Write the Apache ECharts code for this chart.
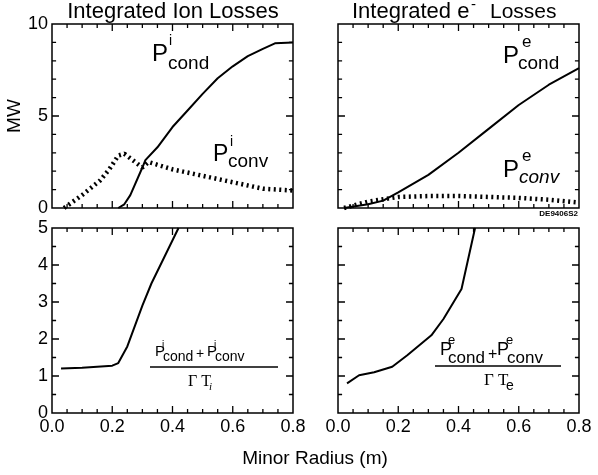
<!DOCTYPE html>
<html>
<head>
<meta charset="utf-8">
<script src="https://cdn.jsdelivr.net/npm/echarts@6/dist/echarts.min.js"></script>
<style>
html, body { margin: 0; padding: 0; background: #fff; }
#main { width: 598px; height: 475px; }
</style>
</head>
<body>
<div id="main"></div>
<script>
// tick labels
var radiusTicks = ['0.0', '0.2', '0.4', '0.6', '0.8'];
var powerTicks = [0, 5, 10];
var ratioTicks = [0, 1, 2, 3, 4, 5];
// small frame ticks (drawn on all four sides)
var radiusMarks = [0.05, 0.1, 0.15, 0.2, 0.25, 0.3, 0.35, 0.4, 0.45, 0.5, 0.55, 0.6, 0.65, 0.7, 0.75];
var powerMarks = [1, 2, 3, 4, 5, 6, 7, 8, 9];
var ratioMarks = [0.5, 1, 1.5, 2, 2.5, 3, 3.5, 4, 4.5];

// integrated ion losses [r (m), MW]
var ionCond = [[0.22, 0], [0.24, 0.2], [0.26, 0.7], [0.3, 2.2], [0.31, 2.6], [0.35, 3.3], [0.4, 4.4],
  [0.45, 5.3], [0.5, 6.2], [0.55, 7.05], [0.6, 7.7], [0.65, 8.25], [0.7, 8.65], [0.74, 8.95], [0.8, 9.0]];
var ionConv = [[0.04, 0], [0.1, 0.7], [0.16, 1.5], [0.19, 2.1], [0.22, 2.85], [0.24, 2.95], [0.3, 2.2],
  [0.32, 2.5], [0.4, 2.1], [0.5, 1.75], [0.6, 1.4], [0.7, 1.05], [0.8, 0.95]];
// integrated electron losses
var eleCond = [[0.02, 0], [0.1, 0.2], [0.15, 0.4], [0.2, 0.85], [0.3, 1.8], [0.4, 3.0], [0.5, 4.3],
  [0.6, 5.6], [0.7, 6.7], [0.8, 7.6]];
var eleConv = [[0.02, 0], [0.1, 0.35], [0.2, 0.6], [0.3, 0.65], [0.4, 0.65], [0.5, 0.6], [0.6, 0.55],
  [0.7, 0.45], [0.8, 0.3]];
// (Pcond + Pconv) / (Gamma T)
var ionRatio = [[0.03, 1.2], [0.1, 1.22], [0.2, 1.28], [0.22, 1.35], [0.25, 1.8], [0.3, 2.9], [0.33, 3.5], [0.42, 5.0]];
var eleRatio = [[0.03, 0.8], [0.07, 1.02], [0.12, 1.1], [0.18, 1.25], [0.23, 1.56], [0.31, 2.1], [0.35, 2.54],
  [0.41, 3.35], [0.455, 5.0]];

var FONT = 'Liberation Sans';

function xAx(grid, showLabel) {
  return {
    type: 'value', gridIndex: grid,
    min: 0, max: 0.8, interval: 0.2,
    axisLine: { show: false },
    axisTick: { show: false },
    splitLine: { show: false },
    axisLabel: {
      show: showLabel, margin: 5, color: '#000', fontSize: 18, fontFamily: FONT,
      formatter: function (v) { return radiusTicks[Math.round(v / 0.2)]; }
    }
  };
}

function yAx(grid, ticks, showLabel, name) {
  return {
    type: 'value', gridIndex: grid,
    min: ticks[0], max: ticks[ticks.length - 1], interval: ticks[1] - ticks[0],
    name: name || '', nameLocation: 'middle', nameGap: 22,
    nameTextStyle: { color: '#000', fontSize: 19, fontFamily: FONT },
    axisLine: { show: false },
    axisTick: { show: false },
    splitLine: { show: false },
    axisLabel: { show: showLabel, margin: 4, color: '#000', fontSize: 18, fontFamily: FONT }
  };
}

function solid(idx, data) {
  return {
    type: 'line', xAxisIndex: idx, yAxisIndex: idx, data: data, showSymbol: false, clip: true,
    lineStyle: { color: '#000', width: 2 }
  };
}
function hatch(idx, data) {
  return {
    type: 'line', xAxisIndex: idx, yAxisIndex: idx, data: data, showSymbol: false, clip: true,
    lineStyle: { color: '#000', width: 4.5, type: [2, 3.5] }
  };
}

// inward frame ticks as short segments of a gapped line series, in the panel's data units
function frameTicks(idx, yTicks, yMarks) {
  var yMin = yTicks[0], yMax = yTicks[yTicks.length - 1];
  var yStep = yTicks[1] - yTicks[0];
  var ySpan = yMax - yMin;
  var data = [];
  function isMajor(v, step) { return Math.abs(v / step - Math.round(v / step)) < 1e-6; }
  radiusMarks.forEach(function (v) {
    var l = ySpan * (isMajor(v, 0.2) ? 0.038 : 0.022);
    data.push([v, yMin], [v, yMin + l], [v, '-']);
    data.push([v, yMax], [v, yMax - l], [v, '-']);
  });
  yMarks.forEach(function (v) {
    var l = 0.8 * (isMajor(v, yStep) ? 0.029 : 0.017);
    data.push([0, v], [l, v], [0, '-']);
    data.push([0.8, v], [0.8 - l, v], [0.8, '-']);
  });
  return {
    type: 'line', xAxisIndex: idx, yAxisIndex: idx, data: data, showSymbol: false,
    connectNulls: false, clip: false, silent: true, z: 5,
    lineStyle: { color: '#000', width: 1.3 }
  };
}

function txt(x, y, s, size, extra) {
  var st = {
    text: s, fontSize: size, fontFamily: FONT, fill: '#000',
    textAlign: 'left', textVerticalAlign: 'middle', align: 'left', verticalAlign: 'middle'
  };
  for (var k in extra) st[k] = extra[k];
  return { type: 'text', x: x, y: y, style: st };
}
function hline(x1, x2, y) {
  return { type: 'line', shape: { x1: x1, y1: y, x2: x2, y2: y }, style: { stroke: '#000', lineWidth: 1.5 } };
}

var grids = [
  { left: 52, top: 24, width: 241, height: 184 },
  { left: 338, top: 24, width: 241, height: 184 },
  { left: 52, top: 228, width: 241, height: 185 },
  { left: 338, top: 228, width: 241, height: 185 }
];
grids.forEach(function (g) { g.show = true; g.borderColor = '#000'; g.borderWidth = 1.5; });

var option = {
  animation: false,
  grid: grids,
  xAxis: [xAx(0, false), xAx(1, false), xAx(2, true), xAx(3, true)],
  yAxis: [
    yAx(0, powerTicks, true, 'MW'), yAx(1, powerTicks, false),
    yAx(2, ratioTicks, true), yAx(3, ratioTicks, false)
  ],
  series: [
    frameTicks(0, powerTicks, powerMarks), frameTicks(1, powerTicks, powerMarks),
    frameTicks(2, ratioTicks, ratioMarks), frameTicks(3, ratioTicks, ratioMarks),
    solid(0, ionCond), hatch(0, ionConv),
    solid(1, eleCond), hatch(1, eleConv),
    solid(2, ionRatio), solid(3, eleRatio)
  ],
  graphic: [
    txt(173, 12, 'Integrated Ion Losses', 22, { textAlign: 'center', align: 'center' }),
    txt(352, 12, 'Integrated e', 22),
    txt(471, 5, '-', 15),
    txt(490, 12, 'Losses', 21),
    // ion labels
    txt(152, 54, 'P', 24), txt(169, 41, 'i', 14), txt(168, 64, 'cond', 19),
    txt(213, 155, 'P', 23), txt(230, 142, 'i', 14), txt(228, 162, 'conv', 19),
    // electron labels
    txt(503, 56, 'P', 24), txt(522, 42, 'e', 17), txt(518, 64, 'cond', 19),
    txt(503, 170, 'P', 24), txt(522, 156, 'e', 17), txt(519, 178, 'conv', 19, { fontStyle: 'italic' }),
    txt(578, 214, 'DE9406S2', 8, { textAlign: 'right', align: 'right', fontWeight: 'bold' }),
    // ion fraction
    txt(155, 352, 'P', 15), txt(162, 345, 'i', 10), txt(163, 357, 'cond', 14),
    txt(196, 354, '+', 14),
    txt(207, 352, 'P', 15), txt(214, 345, 'i', 10), txt(215, 357, 'conv', 14),
    hline(150, 278, 367),
    txt(188, 382, '\u0393 T', 16, { fontFamily: 'Liberation Serif' }),
    txt(209, 387, 'i', 11, { fontFamily: 'Liberation Serif', fontStyle: 'italic' }),
    // electron fraction
    txt(440, 350, 'P', 18), txt(448, 340, 'e', 13), txt(448, 358, 'cond', 17),
    txt(488, 355, '+', 16),
    txt(497, 350, 'P', 18), txt(506, 340, 'e', 13), txt(507, 358, 'conv', 17),
    hline(435, 561, 366),
    txt(484, 381, '\u0393 T', 17, { fontFamily: 'Liberation Serif' }),
    txt(506, 386, 'e', 14),
    txt(315, 459, 'Minor Radius (m)', 19, { textAlign: 'center', align: 'center' })
  ]
};

var myChart = echarts.init(document.getElementById('main'));
myChart.setOption(option);
</script>
</body>
</html>
